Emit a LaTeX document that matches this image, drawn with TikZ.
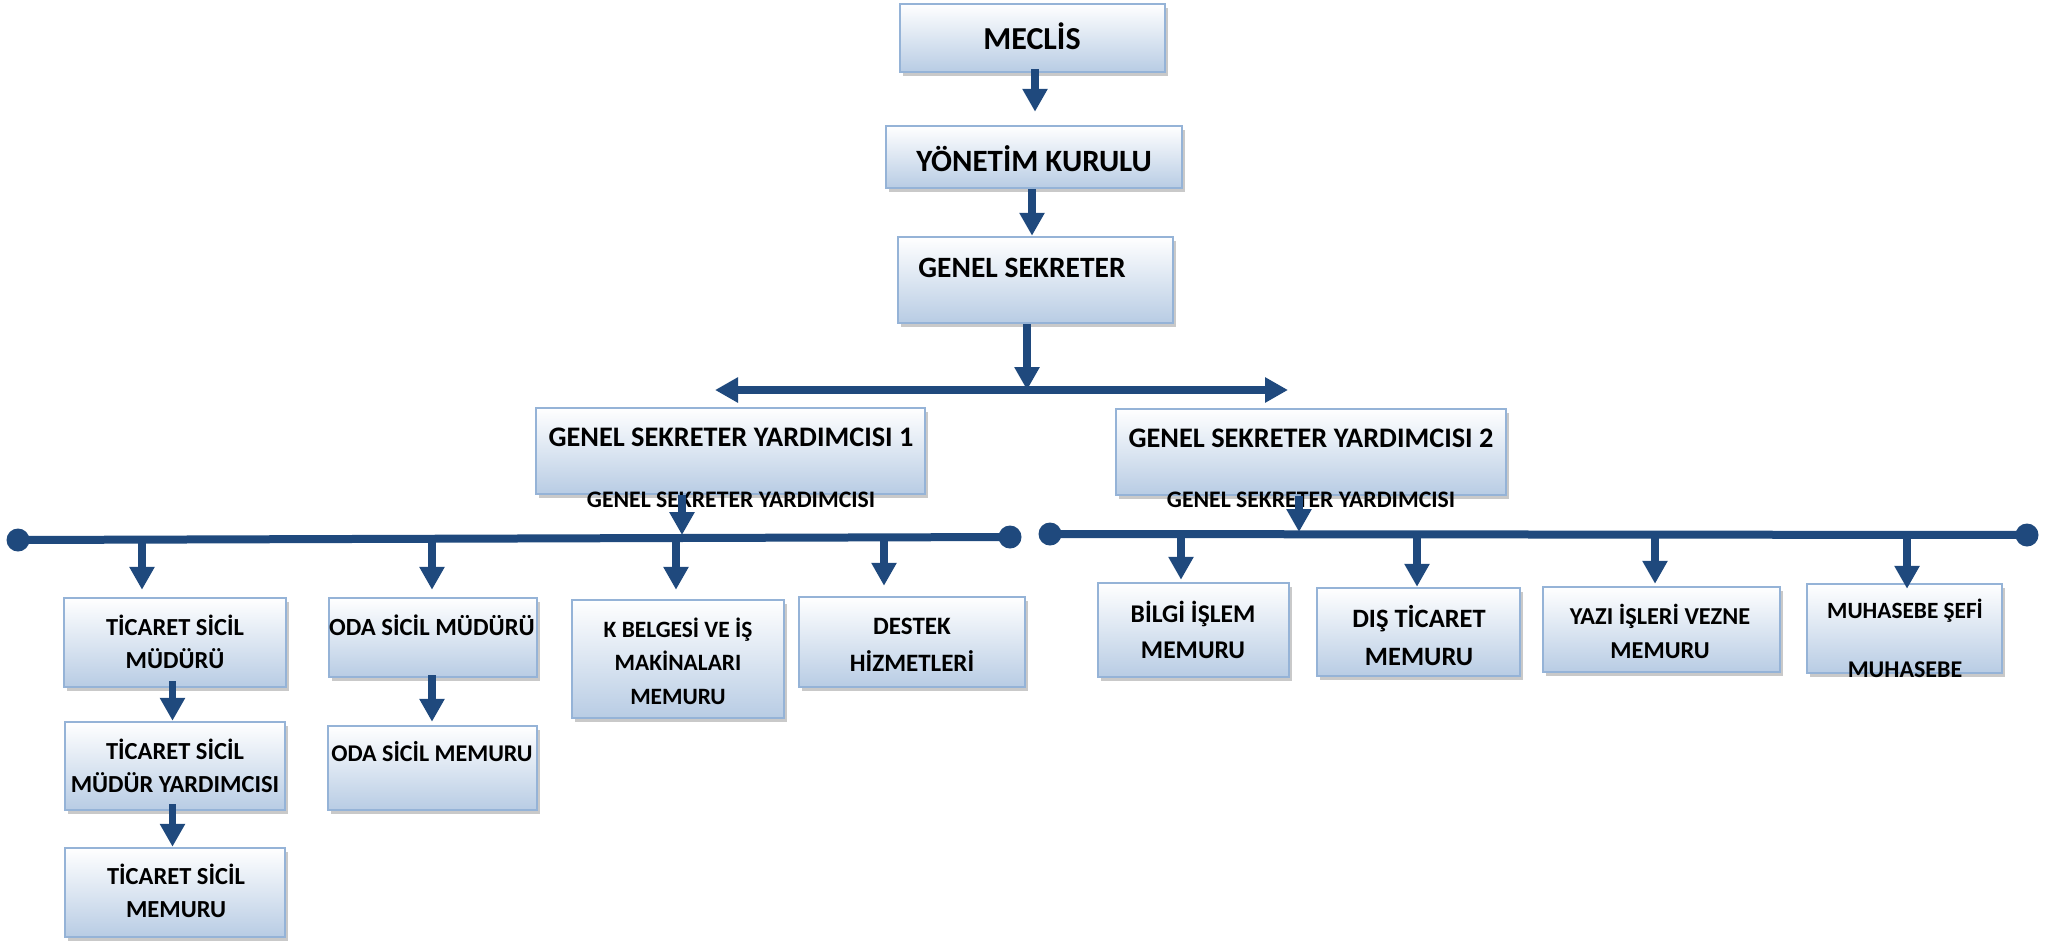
\documentclass[tikz,border=0pt]{standalone}
\usepackage{fontspec}
\setmainfont{Carlito}
\usetikzlibrary{arrows.meta,shadows}
\definecolor{navy}{RGB}{31,73,125}
\definecolor{boxline}{RGB}{149,179,215}
\definecolor{boxbot}{RGB}{184,204,228}
\newcommand\fsz[2]{\fontsize{#1}{#2}\selectfont\bfseries}
\tikzset{
  box/.style={draw=boxline, line width=2.5pt, top color=white, bottom color=boxbot,
    inner sep=0pt, drop shadow={shadow xshift=3pt, shadow yshift=-4pt, opacity=0.3, fill=black!70}},
  txt/.style={align=center, inner sep=0pt, text=black},
  arr/.style={navy, line width=7.5pt, -{Triangle[width=24pt,length=23pt]}},
  bus/.style={navy, line width=8pt},
  dot/.style={circle, fill=navy, minimum size=23pt, inner sep=0pt}
}
\begin{document}
\begin{tikzpicture}[x=1pt,y=-1pt]
\useasboundingbox (0,0) rectangle (2047,943);
% ---- boxes ----
\node[box, minimum width=265pt, minimum height=68pt] (meclis) at (1032.5,38) {};
\node[box, minimum width=296pt, minimum height=62pt] (yk) at (1034,157) {};
\node[box, minimum width=275pt, minimum height=86pt] (gs) at (1035.5,280) {};
\node[box, minimum width=389pt, minimum height=86pt] (gsy1) at (730.5,451) {};
\node[box, minimum width=390pt, minimum height=86pt] (gsy2) at (1311,452) {};
\node[box, minimum width=222pt, minimum height=89pt] (tsm) at (175,642.5) {};
\node[box, minimum width=208pt, minimum height=79pt] (osm) at (433,637.5) {};
\node[box, minimum width=220pt, minimum height=88pt] (tsmy) at (175,766) {};
\node[box, minimum width=220pt, minimum height=89pt] (tsmem) at (175,892.5) {};
\node[box, minimum width=209pt, minimum height=84pt] (osmem) at (432.5,768) {};
\node[box, minimum width=212pt, minimum height=118pt] (kb) at (678,659) {};
\node[box, minimum width=226pt, minimum height=90pt] (destek) at (912,642) {};
\node[box, minimum width=191pt, minimum height=94pt] (bilgi) at (1193.5,630) {};
\node[box, minimum width=203pt, minimum height=88pt] (dis) at (1418.5,632) {};
\node[box, minimum width=237pt, minimum height=85pt] (yazi) at (1661.5,629.5) {};
\node[box, minimum width=195pt, minimum height=89pt] (muh) at (1904.5,628.5) {};
% ---- texts ----
\node[txt, font=\fsz{32}{38}] (meclisT) at (1032,36.5) {MECLİS};
\node[txt, font=\fsz{31}{36}] (ykT) at (1034,159) {YÖNETİM KURULU};
\node[txt, font=\fsz{29.5}{35}] (gsT) at (1022,268) {GENEL SEKRETER};
\node[txt, font=\fsz{28.3}{34}] (gsy1T) at (731,437) {GENEL SEKRETER YARDIMCISI 1};
\node[txt, font=\fsz{23.7}{28}] (gsy1S) at (731,500) {GENEL SEKRETER YARDIMCISI};
\node[txt, font=\fsz{28.3}{34}] (gsy2T) at (1311,438) {GENEL SEKRETER YARDIMCISI 2};
\node[txt, font=\fsz{23.7}{28}] (gsy2S) at (1311,500) {GENEL SEKRETER YARDIMCISI};
\node[txt, font=\fsz{24.5}{33}] (tsmT) at (175,642) {TİCARET SİCİL\\MÜDÜRÜ};
\node[txt, font=\fsz{24.7}{33}] (osmT) at (432,625) {ODA SİCİL MÜDÜRÜ};
\node[txt, font=\fsz{24.5}{33}] (tsmyT) at (175,766) {TİCARET SİCİL\\MÜDÜR YARDIMCISI};
\node[txt, font=\fsz{24.5}{33}] (tsmemT) at (176,891) {TİCARET SİCİL\\MEMURU};
\node[txt, font=\fsz{24}{30}] (osmemT) at (432,752) {ODA SİCİL MEMURU};
\node[txt, font=\fsz{23.4}{33.5}] (kbT) at (678,661) {K BELGESİ VE İŞ\\MAKİNALARI\\MEMURU};
\node[txt, font=\fsz{25}{37}] (destekT) at (912,645) {DESTEK\\HİZMETLERİ};
\node[txt, font=\fsz{25.5}{36}] (bilgiT) at (1193,630) {BİLGİ İŞLEM\\MEMURU};
\node[txt, font=\fsz{26.5}{38}] (disT) at (1419,636) {DIŞ TİCARET\\MEMURU};
\node[txt, font=\fsz{24.3}{34}] (yaziT) at (1660,631) {YAZI İŞLERİ VEZNE\\MEMURU};
\node[txt, font=\fsz{23.3}{30}] (muhT) at (1905,611) {MUHASEBE ŞEFİ};
\node[txt, font=\fsz{24}{30}] (muhS) at (1905,670) {MUHASEBE};
% ---- top arrows ----
\coordinate (hub) at (1027,390);
\coordinate (hl) at (715,390);
\coordinate (hr) at (1288,390);
\draw[arr] ([yshift=4pt]meclis.south -| 1035,0) -- ([yshift=13pt]yk.north -| 1035,0);
\draw[arr] (yk.south -| 1032,0) -- (gs.north -| 1032,0);
\draw[arr] (gs.south -| hub) -- (hub);
\draw[arr] (hub) -- (hl);
\draw[arr] (hub) -- (hr);
% ---- left bus ----
\node[dot] (dl1) at (18,540) {};
\node[dot] (dl2) at (1010,537) {};
\draw[bus] (dl1.center) -- (dl2.center);
\coordinate (l0) at (682,535);
\draw[arr] (gsy1.south -| l0) -- (l0);
\coordinate (l1) at (142,539);
\coordinate (l2) at (432,538);
\coordinate (l3) at (676,538);
\coordinate (l4) at (884,537);
\draw[arr] (l1) -- ([yshift=7pt]l1 |- tsm.north);
\draw[arr] (l2) -- ([yshift=7pt]l2 |- osm.north);
\draw[arr] (l3) -- ([yshift=9pt]l3 |- kb.north);
\draw[arr] (l4) -- ([yshift=10pt]l4 |- destek.north);
\coordinate (c1) at (172.5,0);
\draw[arr] ([yshift=7pt]tsm.south -| c1) -- (tsmy.north -| c1);
\draw[arr] ([yshift=7pt]tsmy.south -| c1) -- (tsmem.north -| c1);
\draw[arr] ([yshift=3pt]osm.south -| l2) -- ([yshift=3pt]osmem.north -| l2);
% ---- right bus ----
\node[dot] (dr1) at (1050,534) {};
\node[dot] (dr2) at (2027,535) {};
\draw[bus] (dr1.center) -- (dr2.center);
\coordinate (r0) at (1299,532);
\draw[arr] (gsy2.south -| r0) -- (r0);
\coordinate (r1) at (1181,535);
\coordinate (r2) at (1417,535);
\coordinate (r3) at (1655,535);
\coordinate (r4) at (1907,535);
\draw[arr] (r1) -- ([yshift=2pt]r1 |- bilgi.north);
\draw[arr] (r2) -- (r2 |- dis.north);
\draw[arr] (r3) -- ([yshift=2pt]r3 |- yazi.north);
\draw[arr] (r4) -- ([yshift=-6pt]r4 |- muh.north);
\end{tikzpicture}
\end{document}
